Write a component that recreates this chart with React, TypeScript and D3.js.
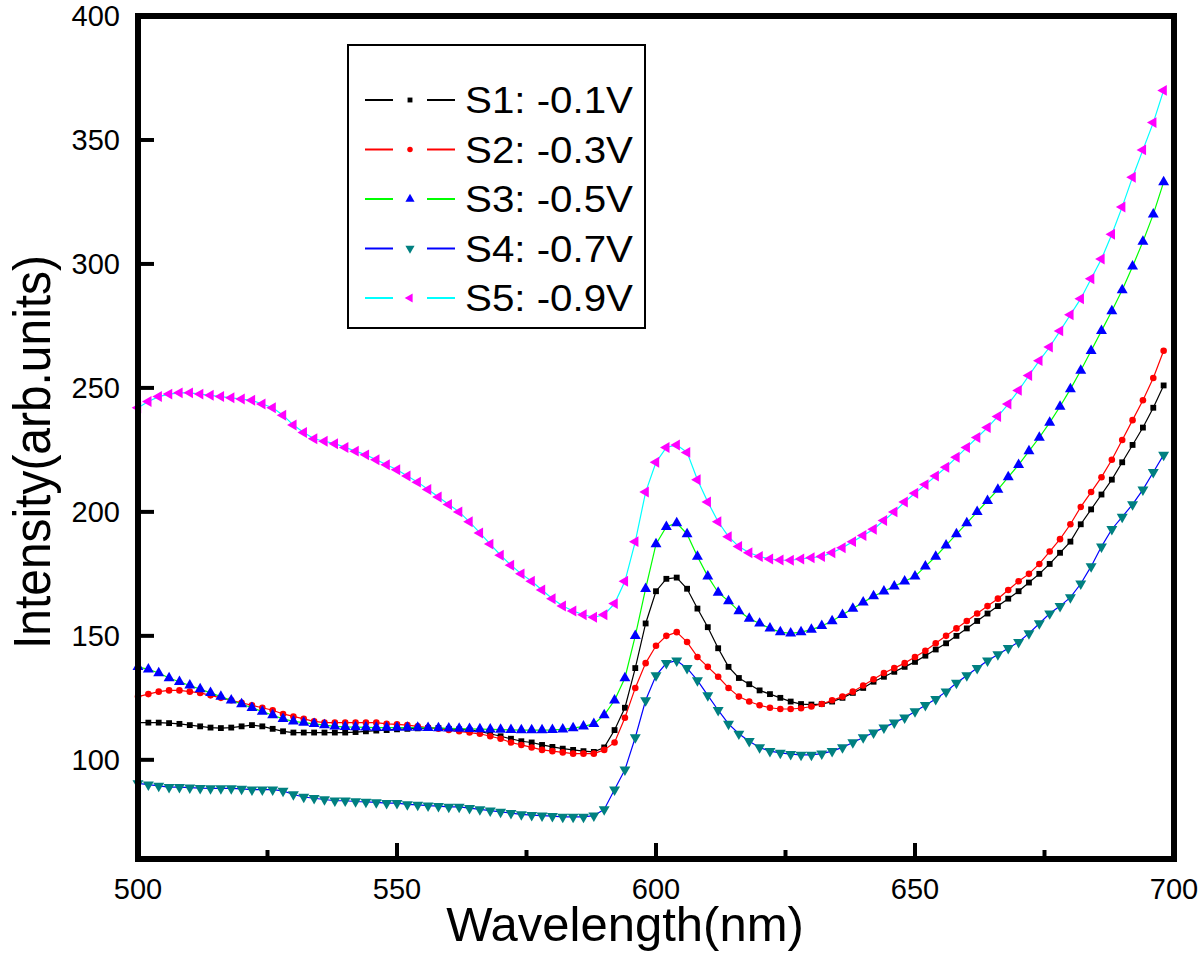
import * as d3 from "d3";

// sampling grid (nm) and read-off intensities
const wavelengths = d3.range(500, 700, 2);

const s1 = [
  115, 115, 115, 114.8, 114.5, 114, 113.5, 113, 112.8, 113,
  113.5, 114, 113.5, 112.5, 111.5, 111, 111, 111, 111, 111,
  111, 111.2, 111.5, 111.8, 112, 112.3, 112.5, 112.7, 112.8, 112.8,
  112.5, 112.3, 112, 111.5, 110.5, 109.5, 108.5, 107.5, 107, 106,
  105.2, 104.5, 104, 103.5, 103.2, 105, 112, 121, 137, 155,
  168, 173, 173.5, 169, 161, 153.5, 145, 137.5, 133, 130.5,
  128, 126.5, 125, 123.5, 122.5, 122.3, 122.5, 123.5, 125, 127,
  129, 131.5, 133.5, 135.5, 137.5, 139.5, 142, 144.5, 147, 150,
  153, 156, 159, 162, 165, 168, 171.5, 175, 179, 183.5,
  188, 195, 201, 207, 213, 220, 227, 234, 242, 251,
];
const s2 = [
  125.5, 126.5, 127.5, 128, 128, 127.5, 127, 126, 125, 124,
  123, 122, 121, 120, 118.5, 117.5, 116.5, 115.5, 115, 115,
  115, 115, 115, 115, 114.5, 114.3, 114, 113.5, 113, 112.5,
  112, 111.5, 111, 110.5, 109.5, 108.5, 107, 106, 105, 104,
  103.5, 103, 102.5, 102.5, 102.5, 104, 107, 117, 129, 139,
  146, 150, 151.5, 147.5, 141.5, 137.5, 133.5, 129, 125.5, 123.5,
  122, 121, 120.5, 120.5, 120.8, 121.5, 122.5, 124, 125.5, 127.5,
  130, 132.5, 135, 137, 139, 141.5, 144, 147, 150, 153,
  156, 159, 162, 165, 168.5, 172, 175, 179, 184, 189,
  195, 202, 208, 214, 221, 229, 237, 245, 254, 265,
];
const s3 = [
  137.5, 136.5, 135, 133, 131.5, 130, 128.5, 127, 125.5, 124,
  122.5, 121, 119.5, 118, 116.5, 115.5, 115, 114.5, 114, 113.5,
  113.3, 113.2, 113.1, 113, 113, 113, 113, 113, 112.9, 112.8,
  112.7, 112.6, 112.5, 112.4, 112.3, 112.2, 112.1, 112, 112, 112,
  112.1, 112.3, 112.8, 113.5, 114.5, 118, 124, 133, 150, 169,
  187, 194, 195.5, 191, 182, 174, 167.5, 164, 160, 157,
  155, 153, 151.5, 151, 151.5, 152.5, 154, 156, 158.5, 161,
  163.5, 166, 168, 170, 172, 174, 178, 182, 186.5, 191,
  195.5, 200, 204.5, 209, 214, 219, 224.5, 230, 236, 242.5,
  249.5, 257, 265, 273, 281, 289.5, 299, 309, 320, 333,
];
const s4 = [
  90.5, 90, 89.5, 89, 89, 88.8, 88.6, 88.5, 88.5, 88.5,
  88.3, 88, 88, 88, 87.5, 86, 85, 84.5, 84, 83.5,
  83.5, 83.2, 83, 82.8, 82.5, 82.5, 82, 81.8, 81.5, 81.3,
  81, 81, 80.5, 80, 79.5, 79, 78.5, 78, 77.7, 77.5,
  77.3, 77, 77, 77, 77.5, 80, 88, 96, 109, 124,
  134, 139, 140, 137, 132, 126, 120, 114.5, 110.5, 107.5,
  105, 103.5, 102.8, 102.3, 102, 102, 102.5, 103.5, 105, 107,
  109, 111, 113, 115, 117, 119.5, 122, 124.5, 127.5, 131,
  134, 137, 140, 142.5, 145, 147.5, 151, 155, 159, 162,
  165.5, 171, 178, 186, 193, 198, 203, 209, 216, 223,
];
const s5 = [
  242, 244.5, 246.5, 247.5, 248, 248, 247.5, 247, 246.5, 246,
  245.5, 245, 243.5, 242, 239, 235, 232, 229.5, 228.5, 227.5,
  226, 224.5, 223, 221, 219, 217, 214.5, 212, 209, 206,
  203, 200, 196, 191.5, 187, 182.5, 178.5, 175, 172, 168.5,
  165, 162, 160, 158.5, 157.5, 158.5, 163, 172, 188, 208,
  220, 226, 227, 224, 213, 204, 196, 190, 186, 183.5,
  182, 181, 180.6, 180.5, 181, 181.5, 182, 183.5, 185.5, 188,
  190.5, 193, 196.5, 200, 204, 207.5, 211, 214.5, 218, 222,
  226, 230, 234, 238.5, 243.5, 249, 255, 261, 266.5, 273,
  279.5, 286, 294, 302, 312, 323, 335, 346, 357, 370,
];

const seriesNames = ["S1: -0.1V", "S2: -0.3V", "S3: -0.5V", "S4: -0.7V", "S5: -0.9V"];
const seriesValues = [s1, s2, s3, s4, s5];
const lineColors = ["#000000", "#ff0000", "#00ff00", "#0000ff", "#00ffff"];
const markerColors = ["#000000", "#ff0000", "#0000ff", "#008080", "#ff00ff"];
// symbol type + rotation per series
const markerShapes = [
  { type: d3.symbolSquare, size: 34, rot: 0 },
  { type: d3.symbolCircle, size: 34, rot: 0 },
  { type: d3.symbolTriangle, size: 52, rot: 0 },
  { type: d3.symbolTriangle, size: 52, rot: 180 },
  { type: d3.symbolTriangle, size: 52, rot: -90 },
];

const xTicks = [500, 550, 600, 650, 700];
const xMinorTicks = [525, 575, 625, 675];
const yTicks = [100, 150, 200, 250, 300, 350, 400];

const FONT = "'Liberation Sans', Arial, Helvetica, sans-serif";

export default function App() {
  const left = 138;
  const right = 1174;
  const top = 16;
  const bottom = 859;

  const x = d3.scaleLinear().domain([500, 700]).range([left, right]);
  const y = d3.scaleLinear().domain([60, 400]).range([bottom, top]);

  const line = d3
    .line<number>()
    .x((_, i) => x(wavelengths[i]))
    .y((d) => y(d));

  const legendX = 348;
  const legendY = 45;
  const rowY = (i: number) => 100 + i * 49.5;

  return (
    <>
      <style>{"body{margin:0}"}</style>
      <svg width={1200} height={954} style={{ display: "block", background: "#fff" }}>
        {/* series */}
        {seriesValues.map((vals, si) => {
          const sym = d3.symbol().type(markerShapes[si].type).size(markerShapes[si].size)();
          return (
            <g key={si}>
              <path d={line(vals) || ""} fill="none" stroke={lineColors[si]} strokeWidth={1.2} />
              {vals.map((v, i) => (
                <path
                  key={i}
                  d={sym || ""}
                  fill={markerColors[si]}
                  transform={`translate(${x(wavelengths[i])},${y(v)}) rotate(${markerShapes[si].rot})`}
                />
              ))}
            </g>
          );
        })}

        {/* frame */}
        <rect x={left} y={top} width={right - left} height={bottom - top} fill="none" stroke="#000" strokeWidth={6} />

        {/* y ticks */}
        {yTicks.map((t) => (
          <g key={t}>
            {t < 400 && <line x1={left} x2={left + 16} y1={y(t)} y2={y(t)} stroke="#000" strokeWidth={4} />}
            <text x={120} y={y(t)} dy="0.35em" textAnchor="end" fontFamily={FONT} fontSize={29}>
              {t}
            </text>
          </g>
        ))}

        {/* x ticks */}
        {xTicks.map((t) => (
          <g key={t}>
            {t > 500 && t < 700 && (
              <line x1={x(t)} x2={x(t)} y1={bottom} y2={bottom - 16} stroke="#000" strokeWidth={4} />
            )}
            <text x={x(t)} y={899} textAnchor="middle" fontFamily={FONT} fontSize={29}>
              {t}
            </text>
          </g>
        ))}
        {xMinorTicks.map((t) => (
          <line key={t} x1={x(t)} x2={x(t)} y1={bottom} y2={bottom - 9} stroke="#000" strokeWidth={4} />
        ))}

        {/* axis titles */}
        <text x={625} y={941} textAnchor="middle" fontFamily={FONT} fontSize={49}>
          Wavelength(nm)
        </text>
        <text
          transform="translate(50,452) rotate(-90)"
          textAnchor="middle"
          fontFamily={FONT}
          fontSize={52}
          textLength={394}
          lengthAdjust="spacingAndGlyphs"
        >
          Intensity(arb.units)
        </text>

        {/* legend */}
        <rect x={legendX} y={legendY} width={297} height={283} fill="#fff" stroke="#000" strokeWidth={2} />
        {seriesNames.map((name, i) => {
          const sym = d3.symbol().type(markerShapes[i].type).size(markerShapes[i].size * 0.7)();
          return (
            <g key={name}>
              <line x1={365} x2={393} y1={rowY(i)} y2={rowY(i)} stroke={lineColors[i]} strokeWidth={2} />
              <line x1={427} x2={455} y1={rowY(i)} y2={rowY(i)} stroke={lineColors[i]} strokeWidth={2} />
              <path
                d={sym || ""}
                fill={markerColors[i]}
                transform={`translate(410,${rowY(i)}) rotate(${markerShapes[i].rot})`}
              />
              <text
                x={465}
                y={rowY(i)}
                dy="0.36em"
                fontFamily={FONT}
                fontSize={37}
                textLength={168}
                lengthAdjust="spacingAndGlyphs"
              >
                {name}
              </text>
            </g>
          );
        })}
      </svg>
    </>
  );
}
